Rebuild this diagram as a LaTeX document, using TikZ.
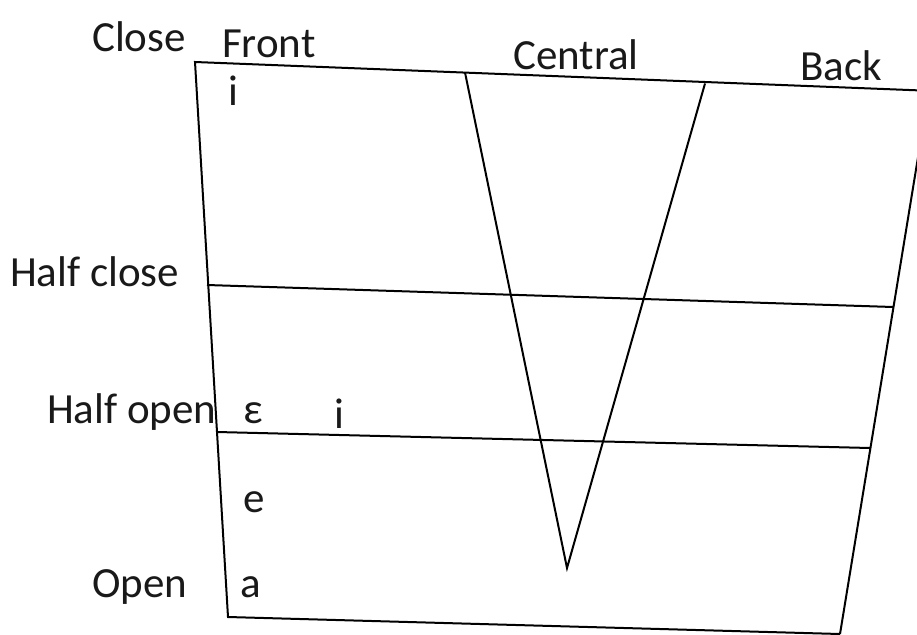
\documentclass[tikz,border=0pt]{standalone}
\usepackage{fontspec}
\setmainfont{Carlito}
\begin{document}
\begin{tikzpicture}[x=1pt,y=-1pt,
  edge/.style={line width=2pt,black,line join=miter},
  lbl/.style={anchor=base west,inner sep=0pt,font=\fontsize{43}{50}\selectfont,text=black!90}]
\useasboundingbox (0,0) rectangle (917,634);
\clip (0,0) rectangle (917,634);
% corners
\coordinate (TL) at (195,62);
\coordinate (TR) at (960,92);
\coordinate (BL) at (228,617);
\coordinate (BR) at (840,634);
\coordinate (RT) at (929,90);
\coordinate (HCl) at (207,285);
\coordinate (HCr) at (893,307);
\coordinate (HOl) at (217,432);
\coordinate (HOr) at (870,448);
\coordinate (VL) at (465,72.5);
\coordinate (VR) at (705,83.5);
\coordinate (VA) at (567,568);
% frame
\draw[edge] (TR) -- (TL) -- (BL) -- (BR);
\draw[edge] (RT) -- (BR);
\draw[edge] (HCl) -- (HCr);
\draw[edge] (HOl) -- (HOr);
\draw[edge] (VL) -- (VA) -- (VR);
% labels
\node[lbl] (close) at (92,52) {Close};
\node[lbl] (front) at (222,57) {Front};
\node[lbl] (central) at (513,70) {Central};
\node[lbl] (back) at (800,80) {Back};
\node[lbl] (halfclose) at (10,286) {Half close};
\node[lbl] (halfopen) at (47,423) {Half open};
\node[lbl] (open) at (92,597) {Open};
\node[lbl] (i1) at (228,105) {i};
\node[lbl] (eps) at (243,423) {ε};
\node[lbl] (i2) at (334,428) {i};
\node[lbl] (e) at (243,512) {e};
\node[lbl] (a) at (240,597) {a};
\end{tikzpicture}
\end{document}
